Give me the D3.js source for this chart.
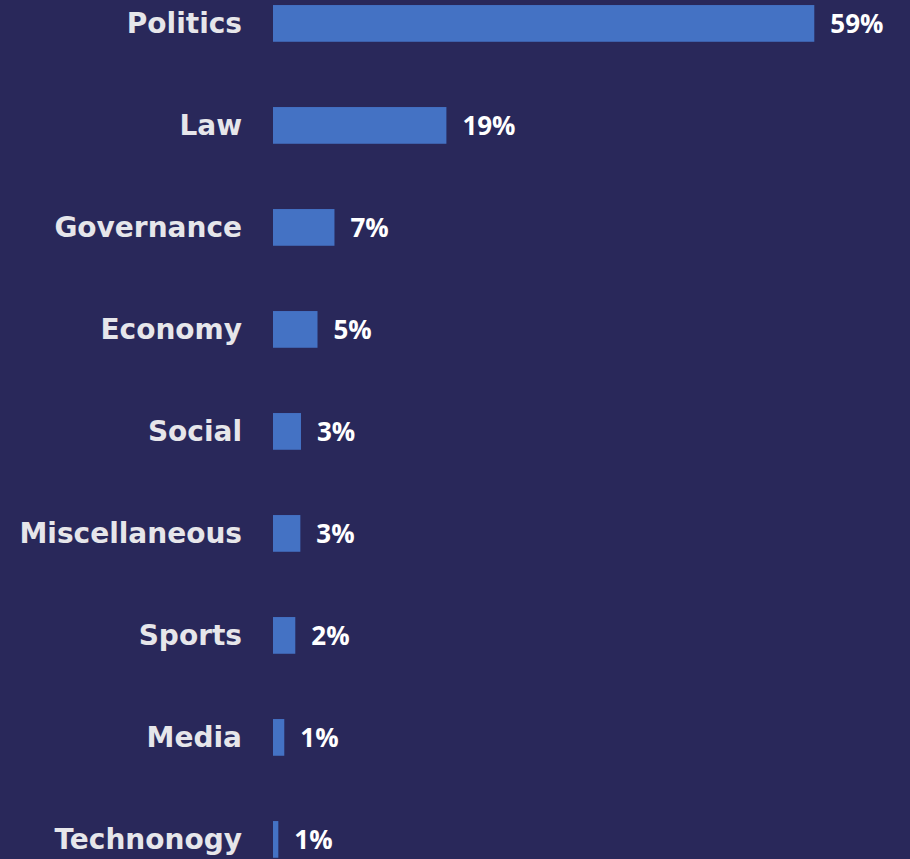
<!DOCTYPE html>
<html>
<head>
<meta charset="utf-8">
<script src="https://cdn.jsdelivr.net/npm/d3@7"></script>
<style>
  html, body { margin: 0; padding: 0; background: #29285a; }
  svg { display: block; }
</style>
</head>
<body>
<div id="chart"></div>
<script>
// topics and share of items, in percent
var categories = ["Politics", "Law", "Governance", "Economy", "Social", "Miscellaneous", "Sports", "Media", "Technonogy"];
var values = [59, 18.9, 6.7, 4.85, 3.05, 2.98, 2.43, 1.23, 0.58];
var value_labels = ["59%", "19%", "7%", "5%", "3%", "3%", "2%", "1%", "1%"];

var width = 910;
var height = 859;

var svg = d3.select("#chart").append("svg")
    .attr("width", width)
    .attr("height", height);

svg.append("rect")
    .attr("width", width)
    .attr("height", height)
    .attr("fill", "#29285a");

var x = d3.scaleLinear()
    .domain([0, 59])
    .range([273, 814.3]);

var y = d3.scaleBand()
    .domain(categories)
    .range([-27.6, 890.4])
    .paddingInner(0.64)
    .paddingOuter(0.32);

// bars
svg.selectAll(".bar")
    .data(categories)
    .enter().append("rect")
    .attr("class", "bar")
    .attr("x", x(0))
    .attr("y", function(d) { return y(d); })
    .attr("width", function(d, i) { return x(values[i]) - x(0); })
    .attr("height", y.bandwidth())
    .attr("fill", "#4472c4");

// category names, right aligned next to the bars
svg.selectAll(".cat")
    .data(categories)
    .enter().append("text")
    .attr("class", "cat")
    .attr("x", 242)
    .attr("y", function(d) { return y(d) + y.bandwidth() / 2 + 10; })
    .attr("text-anchor", "end")
    .attr("fill", "#e6e6ea")
    .style("font-family", "'DejaVu Sans', sans-serif")
    .style("font-weight", "bold")
    .style("font-size", "28px")
    .text(function(d) { return d; });

// value labels
svg.selectAll(".val")
    .data(categories)
    .enter().append("text")
    .attr("class", "val")
    .attr("x", function(d, i) { return x(values[i]) + 16; })
    .attr("y", function(d) { return y(d) + y.bandwidth() / 2 + 10; })
    .attr("fill", "#ffffff")
    .style("font-family", "'Open Sans', 'Noto Sans', sans-serif")
    .style("font-weight", "bold")
    .style("font-size", "26px")
    .text(function(d, i) { return value_labels[i]; });
</script>
</body>
</html>
